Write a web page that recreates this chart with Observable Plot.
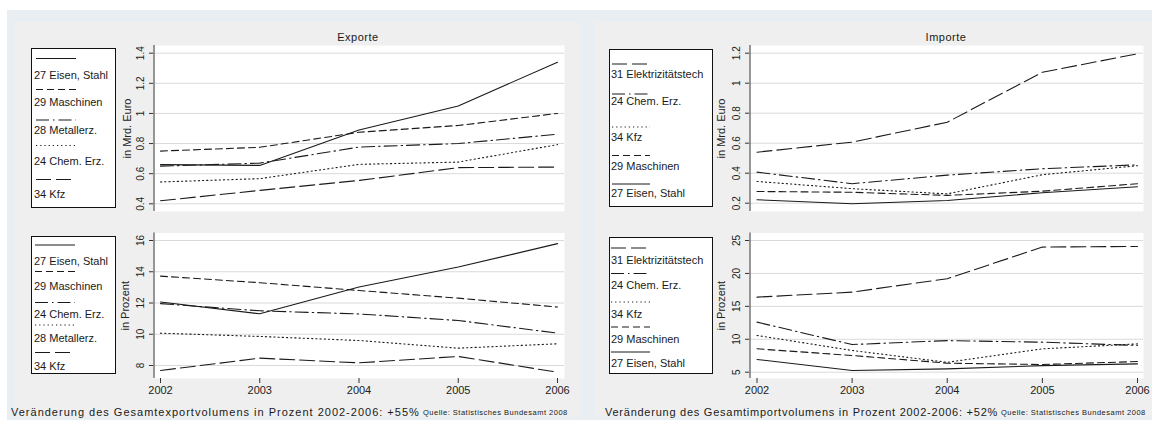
<!DOCTYPE html>
<html><head><meta charset="utf-8">
<script src="https://cdn.jsdelivr.net/npm/d3@7"></script>
<script src="https://cdn.jsdelivr.net/npm/@observablehq/plot@0.6"></script>
<style>
body{margin:0;background:#fff;font-family:"Liberation Sans",Arial,sans-serif;color:#1a1a1a;}
#root{position:relative;width:1152px;height:425px;overflow:hidden;background:#fff;}
.abs{position:absolute;}
.title{font-size:11px;letter-spacing:0.5px;text-align:center;line-height:14px;height:14px;}
.cap{font-size:11px;white-space:nowrap;line-height:14px;}
.src{font-size:7.5px;letter-spacing:0.5px;white-space:nowrap;line-height:10px;}
.legend{background:#fff;border:1px solid #111;box-sizing:border-box;}
.lab{position:absolute;font-size:11px;white-space:nowrap;line-height:12px;}
</style></head><body><div id="root"></div>
<script>
// ---------- data ----------
const years = [2002, 2003, 2004, 2005, 2006];

// Exporte, in Mrd. Euro
const expMrdTicks = [0.4, 0.6, 0.8, 1.0, 1.2, 1.4];
const expMrdTickLabels = ["0.4", "0.6", "0.8", "1", "1.2", "1.4"];
const expMrdEisen = [0.66, 0.655, 0.89, 1.05, 1.34];
const expMrdMasch = [0.75, 0.775, 0.875, 0.92, 1.00];
const expMrdMetall = [0.65, 0.67, 0.777, 0.80, 0.862];
const expMrdChem = [0.545, 0.567, 0.662, 0.677, 0.793];
const expMrdKfz = [0.42, 0.489, 0.555, 0.64, 0.644];

// Exporte, in Prozent
const expPctTicks = [8, 10, 12, 14, 16];
const expPctTickLabels = ["8", "10", "12", "14", "16"];
const expPctEisen = [12.06, 11.31, 13.02, 14.3, 15.8];
const expPctMasch = [13.72, 13.3, 12.8, 12.31, 11.74];
const expPctChem = [11.96, 11.5, 11.3, 10.88, 10.07];
const expPctMetall = [10.07, 9.86, 9.6, 9.11, 9.39];
const expPctKfz = [7.68, 8.47, 8.17, 8.58, 7.57];

// Importe, in Mrd. Euro
const impMrdTicks = [0.2, 0.4, 0.6, 0.8, 1.0, 1.2];
const impMrdTickLabels = ["0.2", "0.4", "0.6", "0.8", "1", "1.2"];
const impMrdElektr = [0.54, 0.607, 0.74, 1.073, 1.196];
const impMrdChem = [0.407, 0.33, 0.387, 0.43, 0.456];
const impMrdKfz = [0.345, 0.297, 0.262, 0.39, 0.45];
const impMrdMasch = [0.278, 0.273, 0.252, 0.28, 0.33];
const impMrdEisen = [0.223, 0.196, 0.218, 0.27, 0.31];

// Importe, in Prozent
const impPctTicks = [5, 10, 15, 20, 25];
const impPctTickLabels = ["5", "10", "15", "20", "25"];
const impPctElektr = [16.4, 17.16, 19.2, 24.0, 24.1];
const impPctChem = [12.6, 9.2, 9.8, 9.56, 9.06];
const impPctKfz = [10.58, 8.3, 6.5, 8.55, 9.3];
const impPctMasch = [8.55, 7.54, 6.37, 6.17, 6.62];
const impPctEisen = [6.93, 5.26, 5.5, 6.0, 6.27];

const labelsExpTop = ["27 Eisen, Stahl", "29 Maschinen", "28 Metallerz.", "24 Chem. Erz.", "34 Kfz"];
const labelsExpBottom = ["27 Eisen, Stahl", "29 Maschinen", "24 Chem. Erz.", "28 Metallerz.", "34 Kfz"];
const labelsImp = ["31 Elektrizitätstech", "24 Chem. Erz.", "34 Kfz", "29 Maschinen", "27 Eisen, Stahl"];

const titleExp = "Exporte";
const titleImp = "Importe";
const yLabelMrd = "in Mrd. Euro";
const yLabelPct = "in Prozent";
const captionExp = "Veränderung des Gesamtexportvolumens in Prozent 2002-2006: +55%";
const captionImp = "Veränderung des Gesamtimportvolumens in Prozent 2002-2006: +52%";
const sourceText = "Quelle: Statistisches Bundesamt 2008";

// ---------- styles ----------
const DASH = {
  solid: null,
  short: "7,4",
  long: "15,5",
  dashdot: "13,4,1.5,4",
  dot: "1.2,3"
};

const root = document.getElementById("root");
function box(cls, css, html) {
  const d = document.createElement("div");
  d.className = "abs " + (cls || "");
  Object.assign(d.style, css);
  if (html != null) d.textContent = html;
  root.appendChild(d);
  return d;
}

// backgrounds
box("", {left: "7px", top: "10px", width: "1145px", height: "410px", background: "#e8eef1"});
box("", {left: "15px", top: "22px", width: "565px", height: "395px", background: "#efefef"});
box("", {left: "595px", top: "22px", width: "557px", height: "395px", background: "#efefef"});

function rows(values) { return years.map((year, i) => ({year, value: values[i]})); }

function panel(o) {
  const marks = [
    Plot.frame({fill: "white", stroke: "none"}),
    Plot.gridY(o.ticks, {stroke: "#dadada", strokeOpacity: 1, strokeWidth: 1}),
    Plot.ruleX([years[0]], {dx: -o.insetLeft + 0.5, stroke: "#333", strokeWidth: 1}),
    Plot.axisY(o.ticks, {tickSize: 4, tickFormat: () => "", stroke: "#333", label: null}),
    Plot.text(o.ticks, {y: d => d, text: (d, i) => o.tickLabels[i], frameAnchor: "left", dx: -12.5, rotate: -90,
      textAnchor: "middle", lineAnchor: "middle", fontSize: 10, fill: "#222"}),
    Plot.text([o.yLabel], {text: d => d, frameAnchor: "left", dx: o.yLabelDx, rotate: -90,
      textAnchor: "middle", lineAnchor: "middle", fontSize: 11, fill: "#222"})
  ];
  o.series.forEach(s => {
    marks.push(Plot.line(rows(s.values), {x: "year", y: "value", stroke: "#1a1a1a", strokeWidth: 1.1,
      strokeDasharray: DASH[s.dash] || undefined}));
  });
  if (o.xAxis) {
    marks.push(Plot.axisX(years, {tickSize: 5, tickPadding: 3, tickFormat: d => String(d), fontSize: 11,
      stroke: "#333", fill: "#222", label: null}));
  }
  const svg = Plot.plot({
    width: o.width, height: o.height,
    marginLeft: o.marginLeft, marginRight: o.marginRight, marginTop: o.marginTop, marginBottom: o.marginBottom,
    x: {domain: [years[0], years[years.length - 1]], insetLeft: o.insetLeft, insetRight: o.insetRight, axis: o.xAxis ? undefined : null},
    y: {domain: [o.ticks[0], o.ticks[o.ticks.length - 1]], insetTop: o.insetTop, insetBottom: o.insetBottom, label: null},
    style: {background: "transparent", fontFamily: "Liberation Sans, Arial, sans-serif", overflow: "visible"},
    marks
  });
  svg.style.position = "absolute";
  svg.style.left = o.left + "px";
  svg.style.top = o.top + "px";
  root.appendChild(svg);
}

function legend(o) {
  const b = box("legend", {left: o.left + "px", top: o.top + "px", width: o.width + "px", height: o.height + "px"});
  const ns = "http://www.w3.org/2000/svg";
  const svg = document.createElementNS(ns, "svg");
  svg.setAttribute("width", o.width); svg.setAttribute("height", o.height);
  svg.style.position = "absolute"; svg.style.left = "-1px"; svg.style.top = "-1px"; svg.style.overflow = "visible";
  b.appendChild(svg);
  o.labels.forEach((lab, i) => {
    const ln = document.createElementNS(ns, "line");
    ln.setAttribute("x1", o.keyX1); ln.setAttribute("x2", o.keyX2);
    ln.setAttribute("y1", o.keyY[i]); ln.setAttribute("y2", o.keyY[i]);
    ln.setAttribute("stroke", "#1a1a1a"); ln.setAttribute("stroke-width", "1.1");
    if (DASH[o.dashes[i]]) ln.setAttribute("stroke-dasharray", DASH[o.dashes[i]]);
    svg.appendChild(ln);
    const t = document.createElement("div");
    t.className = "lab"; t.textContent = lab;
    t.style.left = o.textX + "px"; t.style.top = (o.labY[i] - 7) + "px";
    b.appendChild(t);
  });
}

// titles
box("title", {left: "258px", top: "30px", width: "200px"}, titleExp);
box("title", {left: "846px", top: "30px", width: "200px"}, titleImp);

// panels
panel({left: 0, top: 40, width: 580, height: 180, marginLeft: 153, marginRight: 16, marginTop: 5, marginBottom: 9,
  insetLeft: 7, insetRight: 7, insetTop: 7.7, insetBottom: 7.7, ticks: expMrdTicks, tickLabels: expMrdTickLabels,
  yLabel: yLabelMrd, yLabelDx: -26, xAxis: false,
  series: [{values: expMrdEisen, dash: "solid"}, {values: expMrdMasch, dash: "short"}, {values: expMrdMetall, dash: "dashdot"},
    {values: expMrdChem, dash: "dot"}, {values: expMrdKfz, dash: "long"}]});
panel({left: 0, top: 225, width: 580, height: 180, marginLeft: 153, marginRight: 16, marginTop: 7.5, marginBottom: 27,
  insetLeft: 7, insetRight: 7, insetTop: 7.5, insetBottom: 13, ticks: expPctTicks, tickLabels: expPctTickLabels,
  yLabel: yLabelPct, yLabelDx: -28, xAxis: true,
  series: [{values: expPctEisen, dash: "solid"}, {values: expPctMasch, dash: "short"}, {values: expPctChem, dash: "dashdot"},
    {values: expPctMetall, dash: "dot"}, {values: expPctKfz, dash: "long"}]});
panel({left: 595, top: 40, width: 557, height: 180, marginLeft: 154, marginRight: 9, marginTop: 5, marginBottom: 9,
  insetLeft: 7.5, insetRight: 6, insetTop: 7.7, insetBottom: 8.3, ticks: impMrdTicks, tickLabels: impMrdTickLabels,
  yLabel: yLabelMrd, yLabelDx: -28, xAxis: false,
  series: [{values: impMrdElektr, dash: "long"}, {values: impMrdChem, dash: "dashdot"}, {values: impMrdKfz, dash: "dot"},
    {values: impMrdMasch, dash: "short"}, {values: impMrdEisen, dash: "solid"}]});
panel({left: 595, top: 225, width: 557, height: 180, marginLeft: 154, marginRight: 9, marginTop: 7.5, marginBottom: 27,
  insetLeft: 7.5, insetRight: 6, insetTop: 7.5, insetBottom: 6.3, ticks: impPctTicks, tickLabels: impPctTickLabels,
  yLabel: yLabelPct, yLabelDx: -28, xAxis: true,
  series: [{values: impPctElektr, dash: "long"}, {values: impPctChem, dash: "dashdot"}, {values: impPctKfz, dash: "dot"},
    {values: impPctMasch, dash: "short"}, {values: impPctEisen, dash: "solid"}]});

// legends
legend({left: 31, top: 48, width: 85, height: 160, labels: labelsExpTop, dashes: ["solid", "short", "dashdot", "dot", "long"],
  keyX1: 5, keyX2: 45, textX: 2, keyY: [10.5, 41.5, 72, 97.5, 131.5], labY: [27, 54, 82, 113, 146]});
legend({left: 31, top: 236, width: 85, height: 138, labels: labelsExpBottom, dashes: ["solid", "short", "dashdot", "dot", "long"],
  keyX1: 4, keyX2: 44, textX: 2, keyY: [9, 35.5, 66.5, 89, 116.5], labY: [24.5, 50, 77.5, 102, 130]});
legend({left: 609, top: 49, width: 104, height: 158, labels: labelsImp, dashes: ["long", "dashdot", "dot", "short", "solid"],
  keyX1: 3, keyX2: 41, textX: 1, keyY: [15, 45, 78, 106.5, 135], labY: [25, 51.5, 87.5, 116.5, 144]});
legend({left: 609, top: 236.5, width: 104, height: 137, labels: labelsImp, dashes: ["long", "dashdot", "dot", "short", "solid"],
  keyX1: 2, keyX2: 41, textX: 1, keyY: [11, 36.5, 65, 90, 115], labY: [23.5, 48.5, 77, 102, 126]});

// captions
box("cap", {left: "11px", top: "405px", letterSpacing: "1.0px"}, captionExp);
box("cap", {left: "605px", top: "405px", letterSpacing: "0.75px"}, captionImp);
box("src", {left: "423px", top: "407.5px"}, sourceText);
box("src", {left: "1001px", top: "407.5px"}, sourceText);
</script></body></html>
